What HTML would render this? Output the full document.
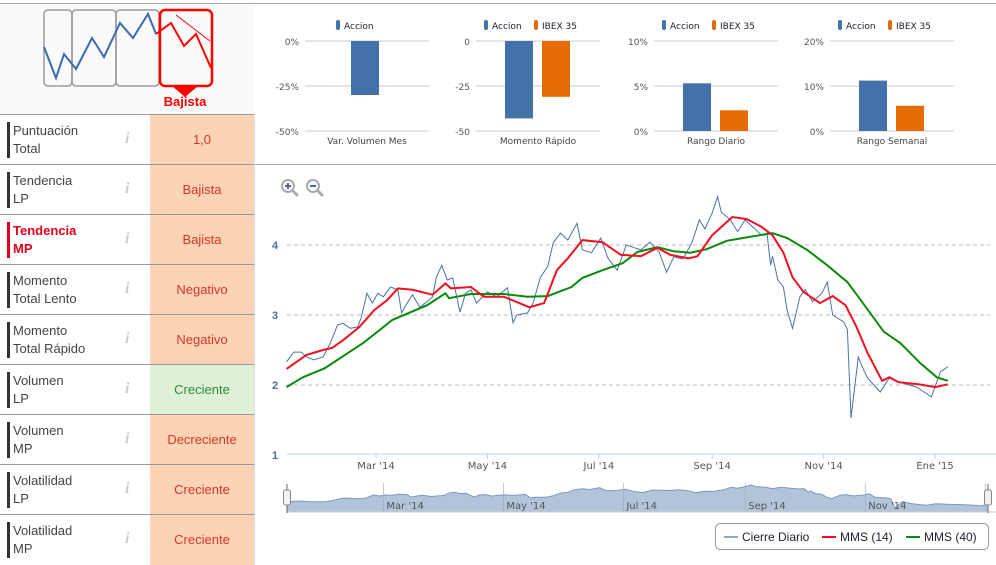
<!DOCTYPE html>
<html><head><meta charset="utf-8"><style>
body{margin:0;width:996px;height:565px;overflow:hidden;background:#fff;font-family:"Liberation Sans","DejaVu Sans",sans-serif;position:relative}
.row{position:absolute;left:0;width:255px;height:50px;border-top:1px solid #999;background:#fff}
.row .bar{position:absolute;left:7px;top:7px;width:3px;height:36px;background:#333}
.row .lbl{position:absolute;left:13px;top:7px;font-size:13px;line-height:18px;color:#444}
.row .info{position:absolute;left:125px;top:15px;font-family:"Liberation Serif",serif;font-style:italic;font-weight:bold;color:#ccc;font-size:16px}
.row .val{position:absolute;left:150px;top:0;width:104px;height:50px;background:#fad4b4;color:#d9342b;font-size:13px;text-align:center;line-height:50px}
</style></head><body>
<div style="position:absolute;left:0;top:3px;width:996px;height:1px;background:#aaa"></div>
<div style="position:absolute;left:0;top:4px;width:255px;height:110px;background:#fafafa"></div>
<svg style="position:absolute;left:0;top:0" width="255" height="115">
<rect x="44" y="10" width="28" height="76" rx="4" fill="none" stroke="#999" stroke-width="1.5"/>
<rect x="72" y="10" width="44" height="76" rx="4" fill="none" stroke="#999" stroke-width="1.5"/>
<rect x="116" y="10" width="43" height="76" rx="4" fill="none" stroke="#999" stroke-width="1.5"/>
<rect x="160" y="10" width="52" height="76" rx="5" fill="none" stroke="#f00" stroke-width="2.5"/>
<polygon points="172,86 198,86 185,97" fill="#f00"/>
<polyline points="44,47 56,78 64,54 76,69 92,38 104,57 120,23 133,38 148,14 156,34" fill="none" stroke="#3a6bb0" stroke-width="2"/>
<polyline points="156,34 171,23 184,46 196,34 211,68" fill="none" stroke="#f00" stroke-width="2"/>
<line x1="176" y1="15" x2="210" y2="41" stroke="#f00" stroke-width="1"/>
<text x="185" y="106" text-anchor="middle" font-size="13" font-weight="bold" fill="#f00" font-family="Liberation Sans, sans-serif">Bajista</text>
</svg>
<div id="rows"></div>
<div style="position:absolute;left:254px;top:114px;width:1px;height:451px;background:#ddd"></div>
<div style="position:absolute;left:255px;top:164px;width:741px;height:1px;background:#aaa"></div>
<svg id="mini" style="position:absolute;left:0;top:0" width="996" height="160"></svg>
<svg id="main" style="position:absolute;left:0;top:0" width="996" height="565"></svg>
<script>
const rowLabels=[["Puntuación","Total"],["Tendencia","LP"],["Tendencia","MP"],["Momento","Total Lento"],["Momento","Total Rápido"],["Volumen","LP"],["Volumen","MP"],["Volatilidad","LP"],["Volatilidad","MP"]];
const rowValues=["1,0","Bajista","Bajista","Negativo","Negativo","Creciente","Decreciente","Creciente","Creciente"];
const rowsEl=document.getElementById('rows');
rowLabels.forEach((l,i)=>{
  const r=document.createElement('div');r.className='row';r.style.top=(114+i*50)+'px';
  
  
  const hl=i===2;
  r.innerHTML='<div class="bar" style="background:'+(hl?'#e0001b':'#333')+'"></div><div class="lbl" style="'+(hl?'color:#e0001b;font-weight:bold':'')+'">'+l[0]+'<br>'+l[1]+'</div><div class="info">i</div><div class="val" style="'+(rowValues[i]==='Creciente'&&i===5?'background:#dff0d8;color:#2e8b3a':'')+'">'+rowValues[i]+'</div>';
  r.querySelector('.info');
  r.querySelector('.info');
  r.querySelector('.val');
  r.querySelector('.val');
  rowsEl.appendChild(r);
});
</script>
<script>
// mini bar charts
const miniTitles=["Var. Volumen Mes","Momento Rápido","Rango Diario","Rango Semanal"];
const miniAccion=[-30,-43,5.3,11.2];
const miniIbex=[null,-31,2.3,5.6];
const miniTicks=[["0%","-25%","-50%"],["0","-25","-50"],["10%","5%","0%"],["20%","10%","0%"]];
const miniMax=[0,0,10,20];
const miniMin=[-50,-50,0,0];
const NS='http://www.w3.org/2000/svg';
function mk(p,tag,a,txt){const e=document.createElementNS(NS,tag);for(const k in a)e.setAttribute(k,a[k]);if(txt!=null)e.textContent=txt;p.appendChild(e);return e;}
const mini=document.getElementById('mini');
const gx=[305,476,654,830];
miniTitles.forEach((t,i)=>{
  const g=mk(mini,'g',{});
  
  
  const x0=gx[i],w=124,top=41,bot=131;
  const ys=v=>top+(miniMax[i]-v)/(miniMax[i]-miniMin[i])*(bot-top);
  [0,1,2].forEach(k=>{const y=top+k*45;mk(g,'line',{x1:x0,x2:x0+w,y1:y,y2:y,stroke:k==2?'#c0ccd8':'#c8c8c8','stroke-width':1});
    mk(g,'text',{x:x0-6,y:y+4,'text-anchor':'end','font-size':9,fill:'#555','font-family':'DejaVu Sans, sans-serif'},miniTicks[i][k]);});
  const both=miniIbex[i]!=null;
  const bx=both?x0+29:x0+46;
  const z=ys(0);
  let b=mk(g,'rect',{x:bx,y:Math.min(z,ys(miniAccion[i])),width:28,height:Math.abs(ys(miniAccion[i])-z),fill:'#4472a8'});
  
  
  if(both){b=mk(g,'rect',{x:bx+37,y:Math.min(z,ys(miniIbex[i])),width:28,height:Math.abs(ys(miniIbex[i])-z),fill:'#e56b05'});
    
    }
  mk(g,'text',{x:x0+w/2,y:144,'text-anchor':'middle','font-size':9,fill:'#444','font-family':'DejaVu Sans, sans-serif'},t);
  const lx=both?x0+8:x0+31;
  mk(g,'rect',{x:lx,y:20,width:4,height:10,rx:2,fill:'#4472a8'});
  mk(g,'text',{x:lx+8,y:29,'font-size':9,fill:'#223','font-family':'DejaVu Sans, sans-serif'},'Accion');
  if(both){mk(g,'rect',{x:lx+50,y:20,width:4,height:10,rx:2,fill:'#e56b05'});
    mk(g,'text',{x:lx+58,y:29,'font-size':9,fill:'#223','font-family':'DejaVu Sans, sans-serif'},'IBEX 35');}
});
</script>
<script>
// main chart data: days since 2014-01-01
const closeDays=[10,14,18,21,25,30,34,38,41,45,49,51,54,57,60,63,67,71,73,76,79,83,87,90,92,95,98,101,105,108,111,114,120,125,131,134,136,142,145,149,153,156,160,164,169,172,177,182,186,191,196,204,209,214,218,222,227,232,236,239,243,246,248,253,257,261,266,270,273,275,276,279,282,284,287,291,294,298,303,306,309,315,317,319,323,326,328,335,340,347,355,363,368,372];
const closeVals=[2.33,2.47,2.47,2.40,2.36,2.40,2.60,2.86,2.88,2.81,2.83,2.97,3.31,3.17,3.31,3.26,3.40,3.36,3.03,3.17,3.29,3.11,3.19,3.26,3.54,3.71,3.50,3.53,3.04,3.31,3.36,3.17,3.33,3.26,3.39,2.89,3.00,3.03,3.17,3.54,3.69,4.03,4.17,4.07,4.31,3.93,3.89,4.10,3.81,3.64,4.00,3.93,4.04,3.90,3.61,3.83,3.80,4.04,4.36,4.23,4.46,4.69,4.47,4.36,4.19,4.36,4.24,4.14,4.17,3.71,3.84,3.50,3.40,3.07,2.81,3.26,3.36,3.19,3.31,3.47,3.00,2.90,2.79,1.53,2.40,2.21,2.10,1.90,2.10,2.03,1.97,1.83,2.19,2.26];
const mms14Days=[10,21,30,35,41,50,58,65,71,79,90,97,100,111,118,129,143,151,158,164,172,183,193,204,213,220,230,235,243,254,262,270,276,282,287,293,302,309,316,322,328,336,340,345,356,365,372];
const mms14Vals=[2.23,2.43,2.50,2.53,2.64,2.83,3.07,3.21,3.38,3.36,3.29,3.45,3.38,3.40,3.26,3.26,3.11,3.17,3.64,3.81,4.07,4.04,3.86,3.84,3.96,3.86,3.81,3.84,4.14,4.40,4.37,4.26,4.14,3.89,3.54,3.33,3.17,3.27,3.14,2.83,2.46,2.06,2.11,2.04,2.01,1.97,2.01];
const mms40Days=[10,19,31,52,68,87,97,99,111,129,142,153,166,172,183,194,202,213,222,231,240,251,260,269,276,284,295,306,317,323,337,346,357,366,372];
const mms40Vals=[1.97,2.11,2.24,2.60,2.93,3.14,3.31,3.24,3.30,3.30,3.26,3.27,3.40,3.53,3.64,3.74,3.90,3.97,3.91,3.89,3.94,4.06,4.10,4.14,4.17,4.10,3.93,3.71,3.47,3.26,2.76,2.60,2.31,2.11,2.06];
const yTicks=[1,2,3,4];
const xTickLabels=["Mar '14","May '14","Jul '14","Sep '14","Nov '14","Ene '15"];
const xTickDays=[59,120,181,243,304,365];

const svg=document.getElementById('main');
const X=d=>268.2+d*1.827;
const Y=v=>525-v*70;
const NX=d=>267.3+d*1.967;
const NY=v=>508-(v-1.53)*7.3;
// zoom icons
[[288,'+'],[313,'-']].forEach(([cx,s],i)=>{
  const g=mk(svg,'g',{});
  
  
  mk(g,'line',{x1:cx+4,y1:190,x2:cx+9,y2:195,stroke:'#aaa','stroke-width':3,'stroke-linecap':'round'});
  mk(g,'circle',{cx:cx,cy:186,r:6,fill:'#fff',stroke:'#aaa','stroke-width':2});
  mk(g,'line',{x1:cx-3,y1:186,x2:cx+3,y2:186,stroke:'#4a6a9a','stroke-width':2});
  if(s==='+')mk(g,'line',{x1:cx,y1:183,x2:cx,y2:189,stroke:'#4a6a9a','stroke-width':2});
});
yTicks.forEach(v=>{
  if(v>1)mk(svg,'line',{x1:287,x2:990,y1:Y(v),y2:Y(v),stroke:'#bbb','stroke-dasharray':'4,3'});
  const t=mk(svg,'text',{x:272,y:Y(v)+4,'font-size':11,'font-weight':'bold',fill:'#4a6fa5'},String(v));
  
  
});
mk(svg,'line',{x1:287,x2:996,y1:454,y2:454,stroke:'#c0d0e0'});
xTickDays.forEach((d,i)=>{
  mk(svg,'line',{x1:X(d),x2:X(d),y1:454,y2:459,stroke:'#c0d0e0'});
  const t=mk(svg,'text',{x:X(d),y:469,'text-anchor':'middle','font-size':10,fill:'#555','font-family':'DejaVu Sans, sans-serif'},xTickLabels[i]);
  
  
});
function line(days,vals,xs,ys){return days.map((d,i)=>xs(d).toFixed(1)+','+ys(vals[i]).toFixed(1)).join(' ');}
let p=mk(svg,'polyline',{points:line(closeDays,closeVals,X,Y),fill:'none',stroke:'#4a72a8','stroke-width':1});


p=mk(svg,'polyline',{points:line(mms40Days,mms40Vals,X,Y),fill:'none',stroke:'#0a8a0a','stroke-width':2});


p=mk(svg,'polyline',{points:line(mms14Days,mms14Vals,X,Y),fill:'none',stroke:'#f01020','stroke-width':2});


// navigator
const nav=mk(svg,'g',{});


mk(nav,'clipPath',{id:'nc'});
mk(nav.lastChild,'rect',{x:287,y:480,width:701,height:40});
const ng=mk(nav,'g',{'clip-path':'url(#nc)'});
const np=line(closeDays,closeVals,NX,NY);
mk(ng,'polygon',{points:'287,512 '+np+' '+NX(closeDays[closeDays.length-1])+',512',fill:'#b2c4da',stroke:'#7d98bd','stroke-width':1});
xTickDays.forEach((d,i)=>{
  mk(ng,'line',{x1:NX(d),x2:NX(d),y1:483,y2:512,stroke:'#a0b0c0','stroke-width':0.7});
  mk(ng,'text',{x:NX(d)+3,y:509,'font-size':10,fill:'#555','font-family':'DejaVu Sans, sans-serif'},xTickLabels[i]);
});
mk(nav,'line',{x1:287,x2:996,y1:512,y2:512,stroke:'#ccc'});
[287,988].forEach(x=>{
  mk(nav,'line',{x1:x,x2:x,y1:484,y2:513,stroke:'#666'});
  const h=mk(nav,'rect',{x:x-3.5,y:490,width:7,height:15,rx:2,fill:'#f2f2f2',stroke:'#888'});
  
  
});
// legend
const lg=mk(svg,'g',{});


mk(lg,'rect',{x:715.5,y:523.5,width:273,height:26,rx:5,fill:'#fff',stroke:'#999'});
[['Cierre Diario','#8ea6c8',724],['MMS (14)','#f01020',822],['MMS (40)','#0a8a0a',906]].forEach(([t,c,x])=>{
  const e=mk(lg,'g',{});
  
  
  mk(e,'line',{x1:x,x2:x+14,y1:537,y2:537,stroke:c,'stroke-width':2});
  mk(e,'text',{x:x+18,y:541,'font-size':12,fill:'#223'},t);
});
</script>
</body></html>
